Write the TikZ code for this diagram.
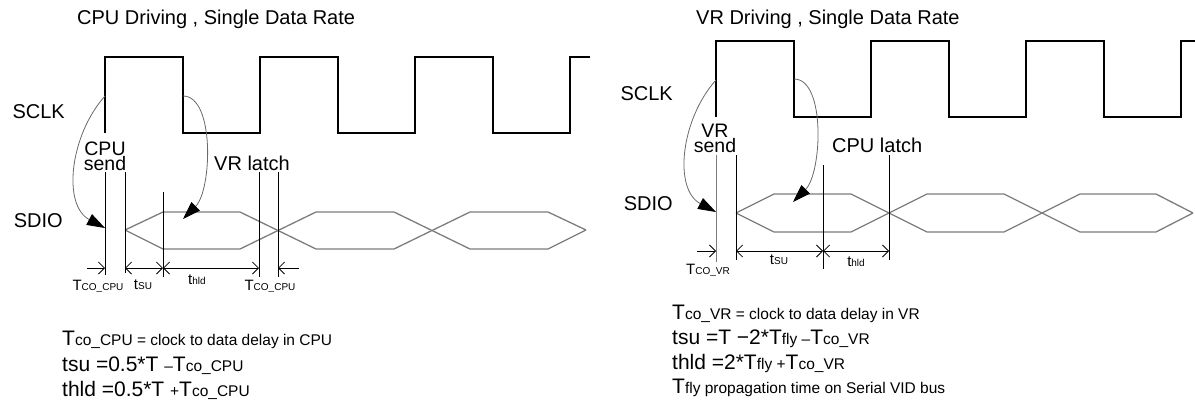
\documentclass[tikz,border=0pt]{standalone}
\usepackage{fontspec}
\setmainfont{Liberation Sans}
\usetikzlibrary{arrows.meta}
\definecolor{eyegray}{RGB}{125,125,125}
\definecolor{curvegray}{RGB}{105,105,105}
\newcommand{\setfs}[1]{\fontsize{#1}{#1}\selectfont}
\begin{document}
\begin{tikzpicture}[x=1pt,y=-1pt,
  clk/.style={line width=2pt, line join=miter},
  eyeline/.style={line width=1.3pt, draw=eyegray, line join=miter},
  vmark/.style={line width=1pt},
  dimone/.style={line width=0.8pt, -{Straight Barb[length=6pt,width=12pt]}},
  dimboth/.style={line width=0.8pt, {Straight Barb[length=6pt,width=12pt]}-{Straight Barb[length=6pt,width=12pt]}},
  curvearrow/.style={line width=0.8pt, draw=curvegray, -{Triangle[length=18pt,width=12pt,color=black]}},
  lbl/.style={inner sep=0pt, font=\setfs{20}},
  stack/.style={inner sep=0pt, align=center, font=\fontsize{19.5}{15}\selectfont},
  dlbl/.style={inner sep=0pt, anchor=base}
]
\path[use as bounding box] (0,0) rectangle (1195,402);

% ================= LEFT PANEL =================
\node[lbl, anchor=base west] (ltitle) at (77,24) {CPU Driving , Single Data Rate};
\node[lbl, anchor=base east] (lsclk) at (65,118) {SCLK};
\node[lbl, anchor=base east] (lsdio) at (63,227) {SDIO};

% clock
\draw[clk] (105,133) -- (105,57) -- (183,57) -- (183,133) -- (260,133) -- (260,57)
  -- (338,57) -- (338,133) -- (415,133) -- (415,57) -- (493,57) -- (493,133)
  -- (570,133) -- (570,57) -- (590,57);

% data eyes
\draw[eyeline] (125,230) -- (163,212) -- (240,212) -- (316,249) -- (394,249) -- (470,212) -- (548,212) -- (586,230);
\draw[eyeline] (125,230) -- (163,249) -- (240,249) -- (316,212) -- (394,212) -- (470,249) -- (548,249) -- (586,230);

% marker lines
\coordinate (la1) at (105,172); \coordinate (la2) at (105,275);
\coordinate (lb1) at (125,172); \coordinate (lb2) at (125,273);
\coordinate (lc1) at (163,192); \coordinate (lc2) at (163,277);
\coordinate (ld1) at (259,172); \coordinate (ld2) at (259,277);
\coordinate (le1) at (278,172); \coordinate (le2) at (278,277);
\draw[vmark] (la1) -- (la2);
\draw[vmark] (lb1) -- (lb2);
\draw[vmark] (lc1) -- (lc2);
\draw[vmark] (ld1) -- (ld2);
\draw[vmark] (le1) -- (le2);

% labels
\node[stack, anchor=base] (lcpusend) at (105,170) {CPU\\send};
\node[lbl, anchor=base west] (llatch) at (214,170) {VR latch};

% curved arrows
\coordinate (lcs) at (105,96); \coordinate (lce) at (105,228);
\draw[curvearrow] (lcs) .. controls (70,135) and (62,205) .. (lce);
\coordinate (lds) at (183,96); \coordinate (lde) at (183,219);
\draw[curvearrow] (lds) .. controls (215,96) and (212,190) .. (lde);

% dimension arrows
\coordinate (lp0) at (87,268); \coordinate (lp1) at (105,268);
\coordinate (lp2) at (125,268); \coordinate (lp3) at (163,268);
\coordinate (lp4) at (259,268); \coordinate (lp5) at (278,268);
\coordinate (lp6) at (299,268);
\draw[dimone] (lp0) -- (lp1);
\draw[dimboth] (lp2) -- (lp3);
\draw[dimboth] (lp3) -- (lp4);
\draw[dimone] (lp6) -- (lp5);

\node[dlbl] (ltco1) at (98,290) {\setfs{15}T\setfs{10}CO\_CPU};
\node[dlbl] (ltsu) at (143,289) {\setfs{15}t\setfs{10}SU};
\node[dlbl] (lthld) at (197,284) {\setfs{15}t\setfs{10}hld};
\node[dlbl] (ltco2) at (270,290) {\setfs{15}T\setfs{10}CO\_CPU};

% bottom text
\node[inner sep=0pt, anchor=base west] (ltx1) at (62,345) {\setfs{21}T\setfs{15.5}co\_CPU = clock to data delay in CPU};
\node[inner sep=0pt, anchor=base west] (ltx2) at (62,371) {\setfs{21}tsu =0.5*T \setfs{15.5}–\setfs{21}T\setfs{15.5}co\_CPU};
\node[inner sep=0pt, anchor=base west] (ltx3) at (62,396) {\setfs{21}thld =0.5*T \setfs{15.5}+\setfs{21}T\setfs{15.5}co\_CPU};

% ================= RIGHT PANEL =================
\node[lbl, anchor=base west] (rtitle) at (696,24) {VR Driving , Single Data Rate};
\node[lbl, anchor=base east] (rsclk) at (673,100) {SCLK};
\node[lbl, anchor=base east] (rsdio) at (673,210) {SDIO};

\draw[clk] (716,117) -- (716,41) -- (794,41) -- (794,117) -- (871,117) -- (871,41)
  -- (949,41) -- (949,117) -- (1026,117) -- (1026,41) -- (1104,41) -- (1104,117)
  -- (1181,117) -- (1181,41) -- (1196,41);

\draw[eyeline] (736,213) -- (774,194) -- (851,194) -- (927,232) -- (1004,232) -- (1080,194) -- (1156,194) -- (1193,213);
\draw[eyeline] (736,213) -- (774,232) -- (851,232) -- (927,194) -- (1004,194) -- (1080,232) -- (1156,232) -- (1193,213);

\coordinate (ra1) at (716,155); \coordinate (ra2) at (716,262);
\coordinate (rb1) at (736,155); \coordinate (rb2) at (736,260);
\coordinate (rc1) at (823,165); \coordinate (rc2) at (823,269);
\coordinate (rd1) at (889,155); \coordinate (rd2) at (889,260);
\draw[vmark, draw=eyegray] (ra1) -- (ra2);
\draw[vmark] (rb1) -- (rb2);
\draw[vmark] (rc1) -- (rc2);
\draw[vmark] (rd1) -- (rd2);

\node[stack, anchor=base] (rvrsend) at (715,152) {VR\\send};
\node[lbl, anchor=base west] (rlatch) at (832,152) {CPU latch};

\coordinate (rcs) at (716,80); \coordinate (rce) at (716,212);
\draw[curvearrow] (rcs) .. controls (681,119) and (673,189) .. (rce);
\coordinate (rds) at (794,79); \coordinate (rde) at (793,202);
\draw[curvearrow] (rds) .. controls (826,79) and (822,173) .. (rde);

\coordinate (rp0) at (697,251); \coordinate (rp1) at (716,251);
\coordinate (rp2) at (736,251); \coordinate (rp3) at (823,251);
\coordinate (rp4) at (889,251);
\draw[dimone] (rp0) -- (rp1);
\draw[dimboth] (rp2) -- (rp3);
\draw[dimboth] (rp3) -- (rp4);

\node[dlbl] (rtco) at (708,274) {\setfs{15}T\setfs{10}CO\_VR};
\node[dlbl] (rtsu) at (779,264) {\setfs{15}t\setfs{10}SU};
\node[dlbl] (rthld) at (856,266) {\setfs{15}t\setfs{10}hld};

\node[inner sep=0pt, anchor=base west] (rtx1) at (672,319) {\setfs{21}T\setfs{15.5}co\_VR = clock to data delay in VR};
\node[inner sep=0pt, anchor=base west] (rtx2) at (672,344) {\setfs{21}tsu =T −2*T\setfs{15.5}fly –\setfs{21}T\setfs{15.5}co\_VR};
\node[inner sep=0pt, anchor=base west] (rtx3) at (672,369) {\setfs{21}thld =2*T\setfs{15.5}fly +\setfs{21}T\setfs{15.5}co\_VR};
\node[inner sep=0pt, anchor=base west] (rtx4) at (672,393) {\setfs{21}T\setfs{15.5}fly propagation time on Serial VID bus};
\end{tikzpicture}
\end{document}
